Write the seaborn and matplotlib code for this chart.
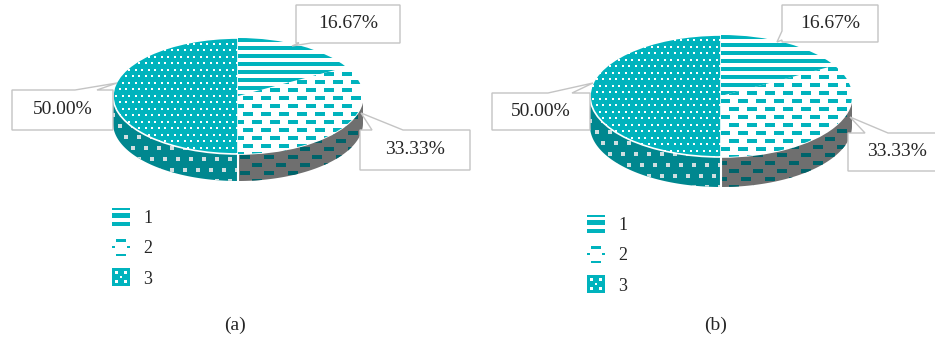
import numpy as np
import matplotlib
matplotlib.use("Agg")
import matplotlib.pyplot as plt
import seaborn as sns
from matplotlib.transforms import Affine2D
from matplotlib.patches import Polygon
from matplotlib.path import Path
from matplotlib.lines import Line2D

# ---------------- data ----------------
categories = ["1", "2", "3"]
values_a = [1, 2, 3]
values_b = [1, 2, 3]
panel_labels = ["(a)", "(b)"]

# ---------------- style ----------------
sns.set_theme(style="white")
plt.rcParams["font.family"] = ["Liberation Serif", "DejaVu Serif"]

TEAL = "#00B3BD"
TEAL_SIDE = "#00878F"
GRAY_SIDE = "#6F6F6F"
DASH_DARK = "#00636A"
DOT_LIGHT = "#CFDEE0"
BOX_EDGE = "#C4C4C4"
TXT = "#262626"

W, H = 935, 340
fig = plt.figure(figsize=(W / 100, H / 100), dpi=100)
ax = fig.add_axes([0, 0, 1, 1])


def Y(y):
    return H - y


RECT_MARK = Path([(-1, -0.4), (1, -0.4), (1, 0.4), (-1, 0.4), (-1, -0.4)], closed=True)


def pattern(clip, x0, x1, y0, y1, marker, size_pt, dx, dy, offset, color, z):
    xs, ys = [], []
    r = 0
    y = y0
    while y <= y1:
        x = x0 + (offset if r % 2 else 0)
        while x <= x1:
            xs.append(x)
            ys.append(y)
            x += dx
        y += dy
        r += 1
    sc = ax.scatter(xs, ys, marker=marker, s=size_pt ** 2, c=color,
                    linewidths=0, zorder=z)
    sc.set_clip_path(clip)


def draw_pie(values, cx, cy, rx, ry, h):
    cyd = Y(cy)
    k = ry / rx
    squash = Affine2D().translate(-cx, -cyd).scale(1, k).translate(cx, cyd) + ax.transData
    wedges, _ = ax.pie(values, startangle=90, counterclock=False, radius=rx,
                       center=(cx, cyd), colors=["white", "white", TEAL],
                       wedgeprops=dict(edgecolor="white", linewidth=1.2))
    for w in wedges:
        w.set_transform(squash)
        w.set_zorder(2)

    # side walls (front half only)
    side_faces = ["#FFFFFF", GRAY_SIDE, TEAL_SIDE]
    for i, w in enumerate(wedges):
        t = np.radians(np.linspace(w.theta1, w.theta2, 400))
        m = np.sin(t) <= 1e-9
        if m.sum() < 2:
            continue
        tt = t[m]
        xt = cx + rx * np.cos(tt)
        yt = cyd + ry * np.sin(tt)
        pts = np.vstack([np.column_stack([xt, yt]),
                         np.column_stack([xt[::-1], yt[::-1] - h])])
        poly = Polygon(pts, closed=True, facecolor=side_faces[i],
                       edgecolor="none", zorder=1)
        ax.add_patch(poly)
        if i == 1:
            pattern(poly, cx - rx, cx + rx, cyd - ry - h, cyd, RECT_MARK,
                    7.2, 24, 8, 12, DASH_DARK, 1.1)
        elif i == 2:
            pattern(poly, cx - rx, cx + rx, cyd - ry - h, cyd, "s",
                    2.9, 13, 11, 6.5, DOT_LIGHT, 1.1)
        # white divider on side at slice boundary
        if np.sin(np.radians(w.theta1)) < -1e-6:
            xb = cx + rx * np.cos(np.radians(w.theta1))
            yb = cyd + ry * np.sin(np.radians(w.theta1))
            ax.plot([xb, xb], [yb, yb - h], color="white", lw=1.5, zorder=1.2)

    # top patterns
    lc = ax.hlines(np.arange(cyd + ry - 2, cyd - ry, -8), cx - rx, cx + rx,
                   colors=TEAL, linewidth=4 * 0.72, zorder=2.1)
    lc.set_clip_path(wedges[0])
    pattern(wedges[1], cx - rx, cx + rx, cyd - ry, cyd + ry, RECT_MARK,
            7.2, 18, 8, 9, TEAL, 2.1)
    pattern(wedges[2], cx - rx, cx + rx, cyd - ry, cyd + ry, "s",
            1.5, 6.5, 6.5, 3.25, "white", 2.1)
    return wedges


def callout(box, side, b0, b1, tip, text, tx=None):
    x0, y0, x1, y1 = box
    if side == "top":
        pts = [(x0, y0), (b0, y0), tip, (b1, y0), (x1, y0), (x1, y1), (x0, y1)]
    elif side == "bottom":
        pts = [(x0, y0), (x1, y0), (x1, y1), (b1, y1), tip, (b0, y1), (x0, y1)]
    else:  # left
        pts = [(x0, y0), (x1, y0), (x1, y1), (x0, y1), (x0, b1), tip, (x0, b0)]
    pts = [(p[0], Y(p[1])) for p in pts]
    ax.add_patch(Polygon(pts, closed=True, facecolor="white",
                         edgecolor=BOX_EDGE, linewidth=1.0, zorder=5))
    cxt = (x0 + x1) / 2 if tx is None else tx
    ax.text(cxt, Y((y0 + y1) / 2), text, ha="center", va="center",
            fontsize=14, color=TXT, zorder=6)


def pct(values):
    s = sum(values)
    return [f"{v / s * 100:.2f}%" for v in values]


# legend glyphs
def rect(x0, y0, x1, y1, rev=False):
    v = [(x0, y0), (x1, y0), (x1, y1), (x0, y1)]
    if rev:
        v = v[::-1]
    return v + [v[0]]


def compound(rects):
    verts, codes = [], []
    for r in rects:
        verts += r
        codes += [Path.MOVETO, Path.LINETO, Path.LINETO, Path.LINETO, Path.CLOSEPOLY]
    return Path(verts, codes)


G1 = compound([rect(-1, 0.77, 1, 1), rect(-1, -0.08, 1, 0.42), rect(-1, -1, 1, -0.62)])
G2 = compound([rect(-0.52, 0.54, 0.52, 0.92), rect(-1, -0.15, -0.72, 0.15),
               rect(0.72, -0.15, 1, 0.15), rect(-0.52, -1, 0.52, -0.86)])
holes = []
for (hx, hy) in [(-0.5, 0.5), (0.5, 0.5), (0, 0), (-0.5, -0.5), (0.5, -0.5)]:
    s = 0.14
    holes.append(rect(hx - s, hy - s, hx + s, hy + s, rev=True))
G3 = compound([rect(-1, -1, 1, 1)] + holes)
GLYPHS = [G1, G2, G3]


def legend(x_px, y_px):
    handles = [Line2D([], [], linestyle="none", marker=g, markersize=12.5,
                      markerfacecolor=TEAL, markeredgewidth=0) for g in GLYPHS]
    lg = ax.legend(handles, categories, loc="upper left",
                   bbox_to_anchor=(x_px / W, 1 - y_px / H), frameon=False,
                   fontsize=13, handlelength=1.0, handletextpad=0.75,
                   labelspacing=0.74, borderpad=0, borderaxespad=0)
    for t in lg.get_texts():
        t.set_color(TXT)
    return lg


# ---------------- panel (a) ----------------
draw_pie(values_a, 238, 96, 125, 58, 27)
la = pct(values_a)
callout((296, 5, 400, 43), "bottom", 299, 311, (292, 46), la[0])
callout((360, 130, 470, 170), "top", 372, 403, (361, 113), la[1])
callout((12, 90, 113, 130), "top", 75, 97, (117, 83), la[2])
lg_a = legend(112, 210)
ax.add_artist(lg_a)

# ---------------- panel (b) ----------------
draw_pie(values_b, 721, 96, 131, 61, 30)
lb = pct(values_b)
callout((782, 5, 878, 42), "left", 31, 40, (777, 42), lb[0])
callout((848, 133, 950, 171), "top", 865, 888, (850, 117), lb[1], tx=897)
callout((492, 93, 590, 130), "top", 548, 572, (593, 83), lb[2])
legend(587, 217)

# captions
ax.text(235, Y(325), panel_labels[0], ha="center", va="center", fontsize=14, color=TXT)
ax.text(716, Y(325), panel_labels[1], ha="center", va="center", fontsize=14, color=TXT)

ax.set_xlim(0, W)
ax.set_ylim(0, H)
ax.set_aspect("auto")
ax.axis("off")
fig.savefig("out.png", dpi=100, facecolor="white")
